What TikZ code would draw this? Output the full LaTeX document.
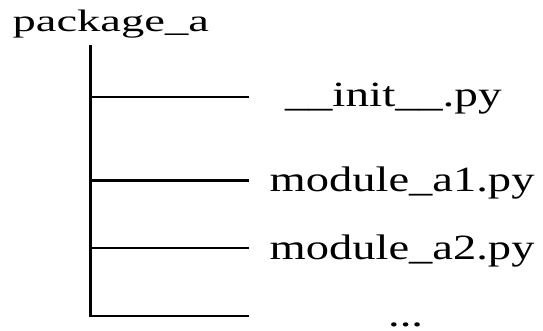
\documentclass[tikz,border=0pt]{standalone}
\usepackage{fontspec}
\setmainfont{Liberation Serif}
\begin{document}
\begin{tikzpicture}[x=1pt,y=-1pt]
\tikzset{
  lbl/.style={anchor=base west, inner sep=0pt, font=\fontsize{35.5}{40}\selectfont},
  toplbl/.style={anchor=base west, inner sep=0pt, font=\fontsize{31}{36}\selectfont},
  tree/.style={line width=2.5pt, line cap=butt, line join=miter}
}
\useasboundingbox (0,0) rectangle (543,330);
\node[toplbl] (pkg) at (12.5,31.7) {\scalebox{1.5}[1]{package\_a}};
\node[lbl] (init) at (285,106.7) {\scalebox{1.33}[1]{\_\_init\_\_.py}};
\node[lbl] (m1) at (269.5,191.7) {\scalebox{1.31}[1]{module\_a1.py}};
\node[lbl] (m2) at (269.5,259) {\scalebox{1.31}[1]{module\_a2.py}};
\node[lbl] (dots) at (388,326.5) {\scalebox{1.31}[1]{...}};
\coordinate (top) at (90.7,45);
\coordinate (b1) at (90.7,97);
\coordinate (b2) at (90.7,180.7);
\coordinate (b3) at (90.7,248);
\coordinate (b4) at (90.7,316);
\coordinate (e1) at (249,97);
\coordinate (e2) at (249,180.7);
\coordinate (e3) at (249,248);
\coordinate (e4) at (249,316);
\draw[tree] (top) -- (b4) -- (e4);
\draw[tree] (b1) -- (e1);
\draw[tree] (b2) -- (e2);
\draw[tree] (b3) -- (e3);
\end{tikzpicture}
\end{document}
